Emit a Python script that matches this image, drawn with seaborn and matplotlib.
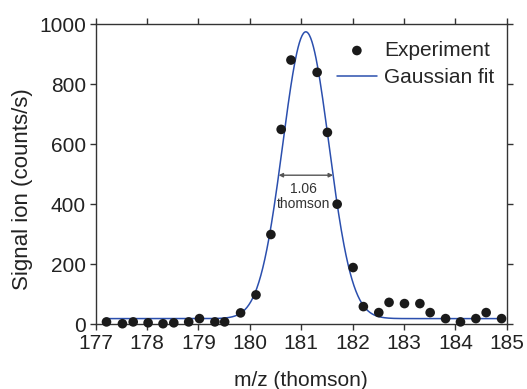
import numpy as np
import pandas as pd
import matplotlib
matplotlib.use("Agg")
import matplotlib.pyplot as plt
import seaborn as sns

mz = [177.21, 177.52, 177.73, 178.02, 178.31, 178.52, 178.81, 179.02, 179.32, 179.51,
      179.82, 180.12, 180.41, 180.61, 180.80, 181.31, 181.51, 181.70, 182.01, 182.21,
      182.51, 182.71, 183.01, 183.31, 183.51, 183.81, 184.10, 184.40, 184.60, 184.90]
signal = [8, 2, 8, 5, 2, 5, 8, 19, 8, 8,
          38, 98, 299, 649, 880, 839, 639, 400, 189, 59,
          39, 73, 69, 69, 39, 19, 8, 19, 39, 19]

# Gaussian fit parameters
fit_center = 181.09
fit_fwhm = 1.06
fit_amplitude = 955
fit_baseline = 19

x_ticks = [177, 178, 179, 180, 181, 182, 183, 184, 185]
y_ticks = [0, 200, 400, 600, 800, 1000]

sns.set_theme(style="ticks")
plt.rcParams['font.family'] = ['Liberation Sans', 'DejaVu Sans']

fig = plt.figure(figsize=(5.27, 3.89), dpi=100)
ax = fig.add_axes([0.1816, 0.1663, 0.9615 - 0.1816, 0.9383 - 0.1663])

sigma = fit_fwhm / (2 * np.sqrt(2 * np.log(2)))
xf = np.linspace(177.2, 184.95, 600)
yf = fit_baseline + fit_amplitude * np.exp(-0.5 * ((xf - fit_center) / sigma) ** 2)
fit_df = pd.DataFrame({"mz": xf, "signal": yf})
exp_df = pd.DataFrame({"mz": mz, "signal": signal})

sns.lineplot(data=fit_df, x="mz", y="signal", ax=ax, color="#2b4fae", linewidth=1.1,
             label="Gaussian fit", zorder=2)
sns.scatterplot(data=exp_df, x="mz", y="signal", ax=ax, color="#1a1a1a", s=48,
                edgecolor="none", label="Experiment", zorder=3, clip_on=False)

half = fit_baseline + fit_amplitude / 2
ax.annotate("", xy=(fit_center - fit_fwhm / 2, half), xytext=(fit_center + fit_fwhm / 2, half),
            arrowprops=dict(arrowstyle="<|-|>", color="#555555", lw=1.0,
                            mutation_scale=6, shrinkA=0, shrinkB=0, facecolor="#111111"))
ax.text(fit_center - 0.05, half - 22, "1.06\nthomson", ha="center", va="top",
        fontsize=10, color="#333333", linespacing=1.1)

ax.set_xlim(177, 185)
ax.set_ylim(0, 1000)
ax.set_xticks(x_ticks)
ax.set_yticks(y_ticks)
ax.set_xlabel("m/z (thomson)", fontsize=15, color="#222222")
ax.set_ylabel("Signal ion (counts/s)", fontsize=16, color="#222222")
ax.xaxis.set_label_coords(0.5, -0.157)
ax.yaxis.set_label_coords(-0.152, 0.45)

for sp in ax.spines.values():
    sp.set_visible(True)
    sp.set_color("#333333")
    sp.set_linewidth(1.0)
ax.tick_params(axis="both", which="major", direction="out", length=4, width=1,
               color="#333333", labelsize=15, labelcolor="#222222", pad=3,
               top=True, right=True, labeltop=False, labelright=False)

handles, labels = ax.get_legend_handles_labels()
order = [labels.index("Experiment"), labels.index("Gaussian fit")]
leg = ax.legend([handles[i] for i in order], [labels[i] for i in order],
                loc="upper right", bbox_to_anchor=(1.0, 0.985), frameon=False,
                fontsize=15, handlelength=1.9, handletextpad=0.35,
                labelspacing=0.4, borderaxespad=0.2)

fig.savefig("out.png", dpi=100)
